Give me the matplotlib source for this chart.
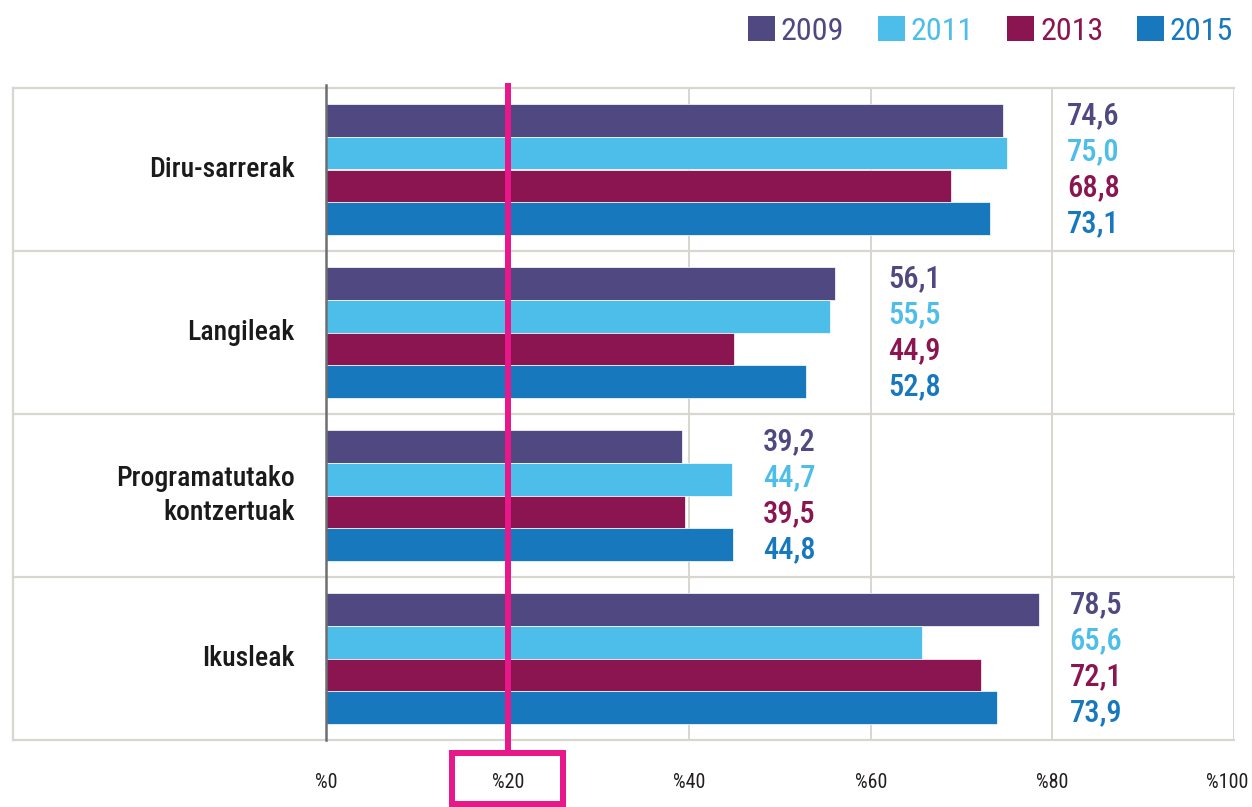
import matplotlib
matplotlib.use("Agg")
import matplotlib.pyplot as plt
from matplotlib.patches import Patch, Rectangle
from matplotlib import font_manager as fm
from matplotlib.transforms import ScaledTranslation
import numpy as np

# ---- data ----
categories = ["Diru-sarrerak", "Langileak", "Programatutako\nkontzertuak", "Ikusleak"]
years = ["2009", "2011", "2013", "2015"]
v2009 = [74.6, 56.1, 39.2, 78.5]
v2011 = [75.0, 55.5, 44.7, 65.6]
v2013 = [68.8, 44.9, 39.5, 72.1]
v2015 = [73.1, 52.8, 44.8, 73.9]
tick_values = [0, 20, 40, 60, 80, 100]
tick_labels = ["%0", "%20", "%40", "%60", "%80", "%100"]
highlight_value = 20

# ---- style ----
colors = ["#4F4881", "#4DBDEA", "#8A1551", "#1878BE"]
pink = "#E8178A"
grid_c = "#D9D5D0"
axis_c = "#6D6E71"
label_x = [81.6, 61.9, 48.1, 81.9]   # layout: x of value labels per group

avail = {f.name for f in fm.fontManager.ttflist}
cands = ["Roboto Condensed", "Liberation Sans Narrow", "Arial Narrow",
         "Open Sans Condensed", "DejaVu Sans Condensed"]
fam = next((c for c in cands if c in avail), None)
condensed = fam is not None
if not condensed:
    fam = "Roboto"
plt.rcParams["font.family"] = [fam, "DejaVu Sans"]
k = 1.0 if condensed else 0.88   # size factor

fig = plt.figure(figsize=(12.52, 8.07), dpi=100)
ax = fig.add_axes([13/1252, 1-740/807, (1234-13)/1252, (740-88)/807])

series = [v2009, v2011, v2013, v2015]
y = np.arange(len(categories))
h = 0.2
for i, vals in enumerate(series):
    ax.barh(y + (i - 1.5) * h, vals, height=h, color=colors[i],
            edgecolor="white", linewidth=0.5, zorder=2)

# value labels
for g in range(len(categories)):
    for i, vals in enumerate(series):
        ax.text(label_x[g], g + (i - 1.5) * 0.22, f"{vals[g]:.1f}".replace(".", ","),
                color=colors[i], fontsize=22 * k, fontweight="medium",
                ha="left", va="center", zorder=4)

ax.set_xlim(-34.5, 100)
ax.set_ylim(len(categories) - 0.5, -0.5)

# grid
for t in tick_values[1:]:
    ax.plot([t, t], [-0.5, len(categories) - 0.5], color=grid_c, lw=1.4, zorder=1)
for b in np.arange(-0.5, len(categories), 1.0):
    ax.plot([-34.5, 100], [b, b], color=grid_c, lw=1.6, zorder=1, clip_on=False)
ax.plot([-34.5, -34.5], [-0.5, len(categories) - 0.5], color=grid_c, lw=1.6, zorder=1, clip_on=False)
ax.plot([0, 0], [-0.52, len(categories) - 0.5], color=axis_c, lw=1.8, zorder=3, clip_on=False)

for s in ax.spines.values():
    s.set_visible(False)

# category labels
for g, c in enumerate(categories):
    ax.text(-3.5, g, c, ha="right", va="center", fontsize=20 * k, fontweight="medium",
            color="#1A1A1A", linespacing=1.3)

ax.set_yticks([])
ax.set_xticks(tick_values)
ax.set_xticklabels(tick_labels, fontsize=14.5 * k, color="#231F20")
ax.tick_params(axis="x", length=0, pad=24)
last = ax.get_xticklabels()[-1]
last.set_transform(last.get_transform() + ScaledTranslation(-7/100, 0, fig.dpi_scale_trans))

# highlight line and box
trans = ax.get_xaxis_transform()
ax.plot([highlight_value, highlight_value], [1.0077, -0.018], transform=trans,
        color=pink, lw=4.3, clip_on=False, zorder=5, solid_capstyle="butt")
ax.add_patch(Rectangle((highlight_value - 6.1, -0.0989), 12.2, 0.0782, transform=trans,
                       fill=False, edgecolor=pink, lw=4.3, clip_on=False, zorder=5))

# legend
handles = [Patch(facecolor=colors[i], edgecolor="none", label=years[i]) for i in range(4)]
leg = fig.legend(handles=handles, loc="upper right", bbox_to_anchor=(1246/1252, 1-3/807),
                 ncol=4, frameon=False, fontsize=23 * k, handlelength=0.85, handleheight=0.85,
                 handletextpad=0.18, columnspacing=1.05, borderaxespad=0)
for t, c in zip(leg.get_texts(), colors):
    t.set_color(c)

fig.savefig("out.png", dpi=100)
